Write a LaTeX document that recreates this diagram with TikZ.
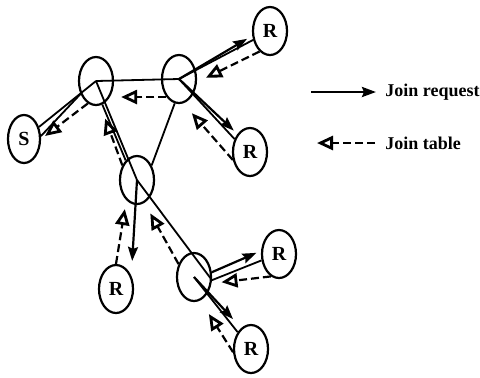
\documentclass[tikz,border=0pt]{standalone}
\usepackage{fontspec}
\setmainfont{Liberation Serif}
\usetikzlibrary{positioning}
\usetikzlibrary{shapes.geometric}
\usetikzlibrary{arrows.meta}

\begin{document}
\begin{tikzpicture}[x=0.5pt, y=-0.5pt,
    router/.style = {ellipse, draw, line width=1.1pt, minimum width=17pt, minimum height=24pt, inner sep=0pt},
    host/.style = {router, font=\fontsize{10}{12}\selectfont\bfseries},
    link/.style = {line width=0.9pt},
    request/.style = {line width=1.1pt, -{Stealth[length=7pt, width=5pt, inset=1pt]}},
    tabline/.style = {line width=1.1pt, dash pattern=on 4pt off 2pt, -{Triangle[open, length=8pt, width=7pt, line width=1.4pt]}},
    legend/.style = {anchor=west, inner sep=0pt, font=\fontsize{9}{11}\selectfont\bfseries}]
    \useasboundingbox (0,0) rectangle (480,377);
    % routers
    \node[router] (n1) at (96,81) {};
    \node[router] (n2) at (179,79) {};
    \node[router] (n3) at (137,180) {};
    \node[router] (n4) at (194,277) {};
    % source and receivers
    \node[host, minimum width=16pt] (S) at (24,139) {S};
    \node[host] (R1) at (270,31) {R};
    \node[host] (R2) at (250,152) {R};
    \node[host] (R3) at (116,289) {R};
    \node[host] (R4) at (279,254) {R};
    \node[host] (R5) at (251,349) {R};
    % links
    \draw[link] (S) -- (n1.center);
    \draw[link] (S.10) -- (n1.220);
    \draw[link] (n1.center) -- (n2.center);
    \draw[link] (n2.-100) -- (n3.45);
    \draw[link] (n1.center) -- (n3.center);
    \draw[link] (n3.120) -- (n1.-75);
    \draw[link] (n3.center) -- (n4.-10);
    \draw[link] (n2.center) -- (R1);
    \draw[link] (n2.center) -- (R2.140);
    \draw[link] (n4.-10) -- (R4.200);
    \draw[link] (n4.center) -- (R5);
    % join requests
    \draw[request, shorten >=3pt] (n2.center) -- (R1.195);
    \draw[request, shorten >=2.5pt] (n2.center) -- (R2.125);
    \draw[request, shorten >=1.5pt] (n3.center) -- ([xshift=8pt]R3.north);
    \draw[request, shorten >=2.5pt] (n4.15) -- (R4.170);
    \draw[request, shorten >=6pt] (n4.center) -- (R5.115);
    % join tables
    \draw[tabline, shorten >=5pt] (R1.243) -- (n2.-10);
    \draw[tabline, shorten >=6.5pt] (R2.205) -- (n2.-80);
    \draw[tabline, shorten >=3.5pt] (n2.235) -- (n2.235 -| n1.east);
    \draw[tabline, shorten >=2.5pt] (n1.-110) -- (S.0);
    \draw[tabline, shorten >=7pt] (n3.135) -- (n1.-80);
    \draw[tabline, shorten >=4.5pt] (R3.north) -- (n3.-118);
    \draw[tabline, shorten >=6pt] (n4.140) -- (n3.-72);
    \draw[tabline, shorten >=5pt] (R4.250) -- (n4.-20);
    \draw[tabline, shorten >=8pt] (R5.190) -- (n4.-75);
    % legend
    \coordinate (k1) at (311,92);
    \node[legend] (t1) at (385,92) {Join request};
    \draw[request, line width=1.3pt, shorten >=4.5pt] (k1) -- (t1);
    \coordinate (k2) at (317,143);
    \node[legend] (t2) at (385,143) {Join table};
    \draw[tabline, shorten <=5pt] (t2) -- (k2);
\end{tikzpicture}
\end{document}
